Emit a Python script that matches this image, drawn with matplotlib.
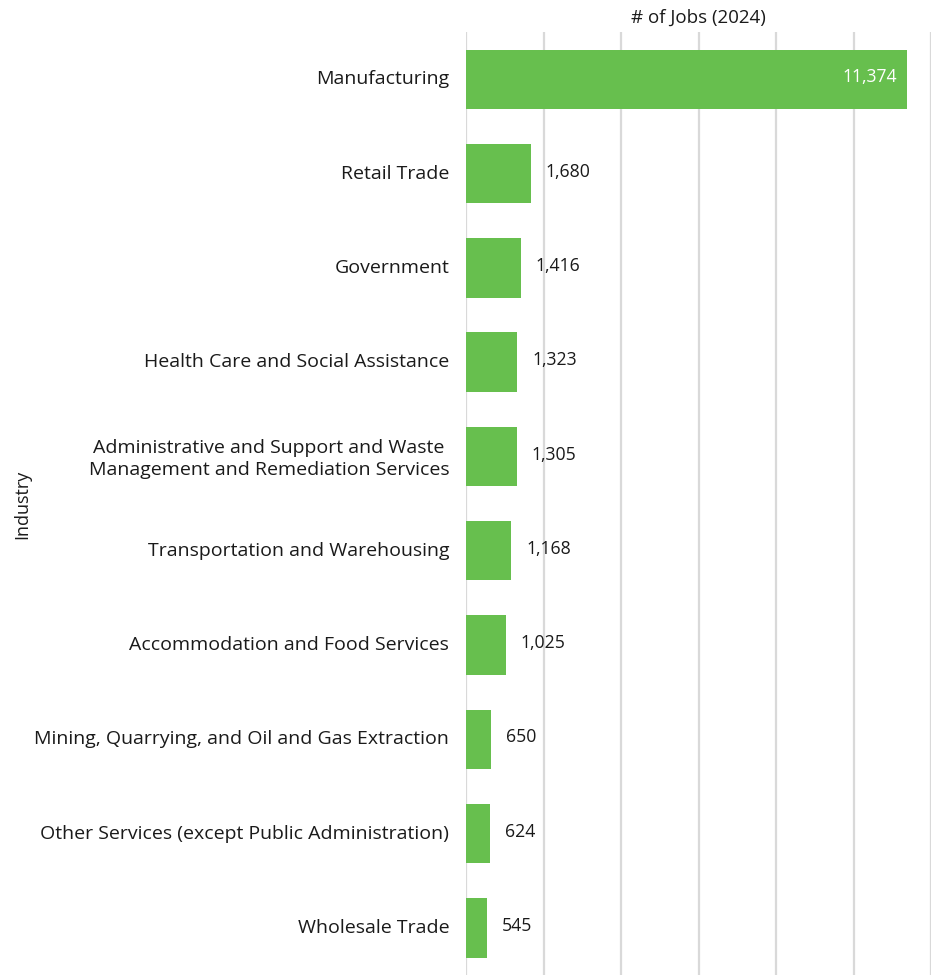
import matplotlib.pyplot as plt

industries = ['Manufacturing', 'Retail Trade', 'Government',
              'Health Care and Social Assistance',
              'Administrative and Support and Waste \nManagement and Remediation Services',
              'Transportation and Warehousing',
              'Accommodation and Food Services',
              'Mining, Quarrying, and Oil and Gas Extraction',
              'Other Services (except Public Administration)',
              'Wholesale Trade']
jobs = [11374, 1680, 1416, 1323, 1305, 1168, 1025, 650, 624, 545]
grid_ticks = [0, 2000, 4000, 6000, 8000, 10000, 12000]

plt.rcParams['font.family'] = ['Open Sans', 'DejaVu Sans']

fig = plt.figure(figsize=(9.33, 9.75), dpi=100)
ax = fig.add_axes([0.4995, 0.0, 0.4985, 0.967])

green = '#67bf4e'
y = list(range(len(industries)))
ax.barh(y, jobs, height=0.63, color=green, zorder=3)

for i, v in enumerate(jobs):
    if v > 5000:
        ax.text(v - 250, i - 0.02, f'{v:,}', va='center', ha='right', color='white', fontsize=12.7, zorder=4)
    else:
        ax.text(v + 380, i - 0.02, f'{v:,}', va='center', ha='left', color='#1a1a1a', fontsize=12.7, zorder=4)

ax.set_xlim(0, 12000)
ax.set_ylim(len(industries) - 0.5, -0.5)
ax.set_xticks(grid_ticks)
ax.set_xticklabels([])
ax.set_yticks([i - 0.02 for i in y])
ax.set_yticklabels(industries, fontsize=14, color='#1a1a1a', linespacing=1.3)
ax.tick_params(axis='both', length=0)
ax.tick_params(axis='y', pad=12)
ax.grid(axis='x', color='#d9d9d9', linewidth=1.6, zorder=0)
for s in ax.spines.values():
    s.set_visible(False)

ax.set_title('# of Jobs (2024)', fontsize=13.5, color='#1a1a1a', pad=7)
fig.text(0.024, 0.483, 'Industry', rotation=90, va='center', ha='center', fontsize=13, color='#1a1a1a')

fig.savefig('out.png', dpi=100)
